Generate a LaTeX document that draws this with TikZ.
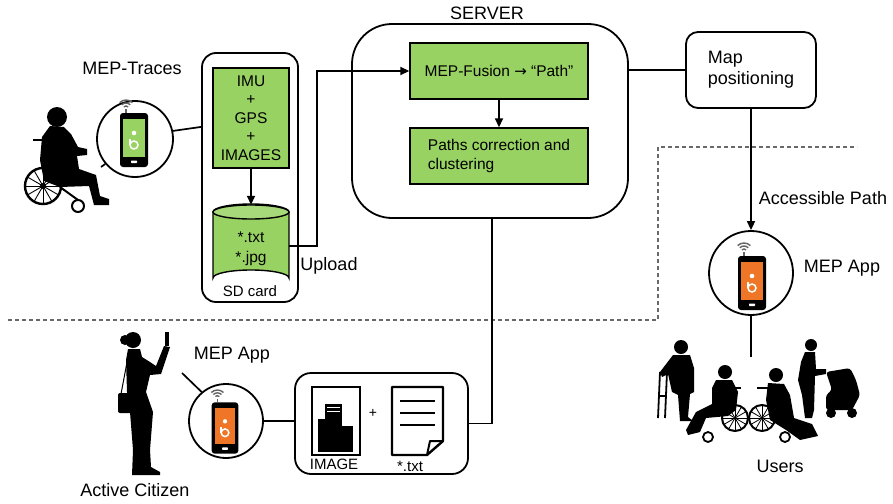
\documentclass[tikz,border=0pt]{standalone}
\usepackage{fontspec}
\setmainfont{Liberation Sans}
\newfontfamily\symfont{DejaVu Sans}
\usetikzlibrary{arrows.meta}

\definecolor{mepgreen}{RGB}{152,210,98}
\definecolor{meporange}{RGB}{238,118,38}
\definecolor{dashgrey}{RGB}{105,105,105}
\definecolor{wifigrey}{RGB}{100,100,100}

\tikzset{
  big/.style={font=\fontsize{18}{21}\selectfont},
  small/.style={font=\fontsize{15.5}{18.5}\selectfont},
  frame/.style={draw, line width=1.8pt, inner sep=0pt},
  greenbox/.style={draw, line width=1.4pt, fill=mepgreen, inner sep=0pt},
  ring/.style={circle, draw, line width=1.8pt, inner sep=0pt},
  conn/.style={line width=1.7pt},
  arr/.style={conn, -{Triangle[length=9pt,width=8pt]}},
  pics/phone/.style={code={
    % signal waves above the handset
    \draw[wifigrey, line width=1.4pt] (-8,-31) -- (-8,-27);
    \foreach \r in {3,6,9}
      \draw[wifigrey, line width=1.4pt] (-8,-31) ++(225:\r) arc[start angle=225, end angle=315, radius=\r];
    % handset
    \fill[black, rounded corners=3pt] (-14,-27) rectangle (14,27);
    \fill[#1] (-11,-21) rectangle (11,17);
    \fill[white, rounded corners=0.6pt] (-3,20.5) rectangle (3,23);
    % app logo
    \fill[white] (0,-7) circle (2.3);
    \draw[white, line width=1.5pt] (0,5) circle (4);
    \draw[white, line width=1.5pt] (-4,5) -- (-4,-1);
  }}
}

\begin{document}
\begin{tikzpicture}[x=1pt, y=-1pt]
\useasboundingbox (0,0) rectangle (893,503);
\fill[white] (0,0) rectangle (893,503);

% ---------- region separators ----------
\draw[dashgrey, line width=1.3pt, dash pattern=on 4pt off 3pt]
  (8,320) -- (658,320) -- (658,147) -- (857,147);

% ---------- trace acquisition ----------
\node[big] (tracelabel) at (132,68) {MEP-Traces};
\node[ring, minimum size=76pt] (trcircle) at (135,139) {};
\pic at (134,140) {phone=mepgreen};

\node[frame, rounded corners=14pt, minimum width=96pt, minimum height=249pt] (sdbox) at (250,177.5) {};
\node[greenbox, minimum width=76pt, minimum height=100pt, align=center, small] (sensors) at (251,118)
  {IMU\\+\\GPS\\+\\IMAGES};
\node[minimum width=76pt, minimum height=82pt, inner sep=0pt] (store) at (251,246) {};
\filldraw[fill=mepgreen, line width=1.4pt]
  (213,212) -- (213,278) arc[start angle=180, end angle=0, x radius=38, y radius=-8]
  -- (289,212) arc[start angle=0, end angle=180, x radius=38, y radius=-8] -- cycle;
\filldraw[fill=mepgreen!85!white, line width=1.4pt] (251,212) ellipse[x radius=38, y radius=7];
\node[small] (txtfile) at (251,237) {*.txt};
\node[small] (jpgfile) at (251,258) {*.jpg};
\node[font=\fontsize{15}{18}\selectfont] (sdlabel) at (250,291) {SD card};
\node[big] (uploadlabel) at (329,266) {Upload};

% ---------- server ----------
\node[big] (serverlabel) at (487,13) {SERVER};
\node[frame, rounded corners=40pt, minimum width=276pt, minimum height=194pt] (server) at (490,121) {};
\node[greenbox, minimum width=178pt, minimum height=56pt, small] (fusion) at (499,71)
  {MEP-Fusion {\symfont\fontsize{15}{18}\selectfont →} “Path”};
\node[greenbox, minimum width=178pt, minimum height=56pt, small, align=left] (clustering) at (499,156)
  {Paths correction and\\clustering};

\node[frame, rounded corners=12pt, minimum width=130pt, minimum height=76pt, big, align=left] (mapbox) at (751,70)
  {Map\\positioning};

% ---------- delivery to users ----------
\node[ring, minimum size=84pt] (appcircle) at (751,273) {};
\pic at (752,283) {phone=meporange};
\node[big] (applabel) at (842,268) {MEP App};
\node[big] (pathlabel) at (823,198) {Accessible Path};
\coordinate (usershub) at (751,357);
\node[big] (userslabel) at (780,466) {Users};

% ---------- active citizen ----------
\node[ring, minimum size=74pt] (citcircle) at (226,421) {};
\pic[scale=0.95] at (225,428) {phone=meporange};
\node[big] (citapplabel) at (232,355) {MEP App};
\coordinate (citlabeltail) at (182,373);
\node[big] (citizenlabel) at (135,490) {Active Citizen};

\node[frame, rounded corners=16pt, minimum width=173pt, minimum height=101pt] (capture) at (381.5,423.5) {};
% picture icon
\draw[line width=2.4pt] (312,387) rectangle (360,455);
\fill (325,404) -- (342,404) -- (342,452) -- (325,452) -- cycle;
\fill (318,419) rectangle (328,452);
\fill (340,426) rectangle (353,452);
\foreach \yy in {407,411} \fill[white] (327,\yy) rectangle (340,\yy+1.2);
\node[font=\fontsize{15}{18}\selectfont] (imagelabel) at (334,464) {IMAGE};
\node[font=\fontsize{14}{16}\selectfont] (pluslabel) at (373,413) {+};
% text-file icon
\draw[line width=2.4pt, line join=round] (392,387) -- (443,387) -- (443,441) -- (427,455) -- (392,455) -- cycle;
\draw[line width=2pt, line join=round] (443,441) -- (430,441) -- (427,455);
\foreach \yy in {401,413,425} \draw[line width=2.4pt] (400,\yy) -- (435,\yy);
\node[font=\fontsize{15}{18}\selectfont] (txtlabel) at (410,466) {*.txt};

% ---------- connectors ----------
\coordinate (riderhand) at (101,167);
\draw[conn] (trcircle.220) -- (riderhand);
\draw[conn] (trcircle.12) -- ([yshift=4pt]trcircle.12 -| sdbox.west);
\draw[arr] (sensors.south) -- (store.north);
\draw[arr] (store.east) -- ++(28,0) |- (fusion.west);
\draw[arr] (fusion.south) -- (clustering.north);
\draw[conn] (server.east |- mapbox.west) -- (mapbox.west);
\draw[arr] (mapbox.south) -- (appcircle.north);
\draw[conn] (appcircle.south) -- (usershub);
\draw[conn] ([xshift=2pt]server.south) |- (capture.east);
\draw[conn] (citcircle.east) -- (citcircle.east -| capture.west);
\draw[conn] (citcircle.130) -- (citlabeltail);

% ---------- figures ----------
% wheelchair rider
\fill (57,117) circle (10);
\fill (50,126) -- (64,127) -- (71,134) -- (78,147) -- (87,149) -- (87,155) -- (77,156)
  -- (79,169) -- (96,175) -- (100,196) -- (109,199) -- (109,205) -- (94,205) -- (89,186)
  -- (60,187) -- (44,181) -- (40,160) -- (42,137) -- cycle;
\draw[line width=2.4pt] (43,186) circle (18);
\foreach \a in {0,30,...,150} \draw[line width=0.9pt] (43,186) +(\a:18) -- +(\a+180:18);
\fill (43,186) circle (3);
\draw[line width=2pt] (78,206) circle (6);
\draw[line width=2.4pt] (33,140) -- (46,140);
\draw[line width=2pt] (60,187) -- (78,200);

% citizen with phone
\fill (133,340) circle (8);
\fill (125,340) circle (5);
\fill (128,349) -- (140,349) -- (142,357) -- (150,362) -- (156,366) -- (164,346) -- (170,347)
  -- (161,374) -- (150,375) -- (146,392) -- (153,412) -- (150,450) -- (151,467) -- (160,472)
  -- (160,475) -- (132,475) -- (133,450) -- (130,412) -- (127,392) -- (126,360) -- cycle;
\fill (165,332) rectangle (169,346);
\draw[line width=1pt] (128,357) -- (121,394);
\fill[rounded corners=2pt] (118,393) rectangle (133,413);

% user group
\fill (681,347) circle (7);
\fill (673,355) -- (690,355) -- (694,368) -- (694,392) -- (690,394) -- (688,417) -- (693,421)
  -- (680,421) -- (678,395) -- (672,392) -- (668,374) -- (662,377) -- (660,372) -- cycle;
\draw[line width=1.8pt] (660,372) -- (658,418) (667,372) -- (665,418) (660,374) -- (668,374) (659,396) -- (666,396);

\fill (725,372) circle (7);
\fill (716,380) -- (732,380) -- (738,392) -- (736,410) -- (728,416) -- (706,418) -- (700,432)
  -- (688,435) -- (686,430) -- (696,412) -- (712,404) -- (712,388) -- cycle;
\draw[line width=2pt] (735,418) circle (13);
\foreach \a in {0,30,...,150} \draw[line width=0.8pt] (735,418) +(\a:13) -- +(\a+180:13);
\draw[line width=1.8pt] (708,437) circle (5);
\draw[line width=2pt] (733,388) -- (741,388);

\fill (776,375) circle (7);
\fill (768,383) -- (784,384) -- (790,395) -- (794,418) -- (812,424) -- (818,436) -- (800,440)
  -- (786,430) -- (770,420) -- (766,400) -- cycle;
\draw[line width=2pt] (762,418) circle (13);
\foreach \a in {0,30,...,150} \draw[line width=0.8pt] (762,418) +(\a:13) -- +(\a+180:13);
\draw[line width=1.8pt] (785,437) circle (5);
\draw[line width=2pt] (757,388) -- (768,388);

\fill (811,345) circle (6);
\fill (805,352) -- (815,352) -- (816,369) -- (826,369) -- (826,374) -- (815,376) -- (814,410)
  -- (812,418) -- (805,418) -- (802,395) -- (798,380) -- (801,362) -- cycle;
\fill[rounded corners=3pt] (826,372) -- (850,368) -- (856,380) -- (860,395) -- (852,410)
  -- (826,410) -- (826,395) -- (832,390) -- cycle;
\fill (831,413) circle (5);
\fill (852,413) circle (5);
\end{tikzpicture}
\end{document}
